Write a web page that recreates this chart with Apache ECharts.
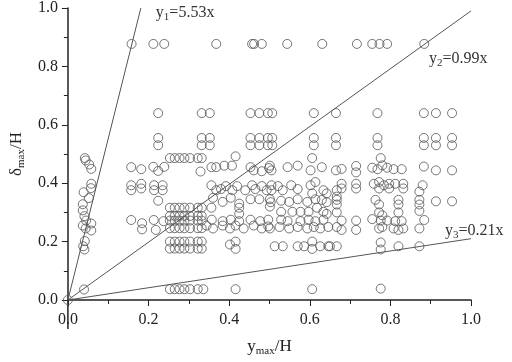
<!DOCTYPE html>
<html>
<head>
<meta charset="utf-8">
<script src="https://cdn.jsdelivr.net/npm/echarts@6/dist/echarts.min.js"></script>
<style>
html,body{margin:0;padding:0;background:#fff;}
#main{width:512px;height:362px;}
</style>
</head>
<body>
<div id="main"></div>
<script>
// 坐标轴刻度
var axisTicks = ['0.0', '0.2', '0.4', '0.6', '0.8', '1.0'];

// 拟合直线 y = kx
var fitNames = ['1', '2', '3'];
var fitSlopes = ['5.53', '0.99', '0.21'];
var fitEnds = [[0.181, 1.0], [1.0, 0.99], [1.0, 0.21]];

// 左侧一列
var leftPts = [
    [0, 0],
    [0.042, 0.486], [0.044, 0.478], [0.053, 0.464], [0.058, 0.449],
    [0.058, 0.398], [0.057, 0.383], [0.039, 0.369], [0.052, 0.349],
    [0.037, 0.328], [0.037, 0.307], [0.041, 0.287], [0.045, 0.272],
    [0.058, 0.262], [0.037, 0.255], [0.044, 0.245], [0.058, 0.238],
    [0.042, 0.202], [0.038, 0.184], [0.041, 0.173], [0.040, 0.036]
];

// 0.15 ~ 0.24
var colBPts = [
    [0.158, 0.877], [0.212, 0.877], [0.239, 0.877],
    [0.224, 0.640], [0.224, 0.555], [0.224, 0.530],
    [0.157, 0.455], [0.182, 0.448], [0.212, 0.456], [0.224, 0.442], [0.239, 0.456],
    [0.157, 0.393], [0.157, 0.376], [0.182, 0.398], [0.182, 0.382],
    [0.214, 0.393], [0.214, 0.376], [0.235, 0.393], [0.235, 0.376],
    [0.224, 0.340],
    [0.157, 0.274], [0.184, 0.263], [0.184, 0.242], [0.213, 0.274],
    [0.237, 0.270], [0.218, 0.240]
];

// 0.25 ~ 0.33 一块
var blockAPts = [
    [0.253, 0.486], [0.265, 0.486], [0.277, 0.486], [0.289, 0.486], [0.303, 0.486], [0.322, 0.486], [0.332, 0.486],
    [0.253, 0.316], [0.265, 0.316], [0.277, 0.316], [0.289, 0.316], [0.303, 0.316], [0.322, 0.316], [0.332, 0.316],
    [0.253, 0.288], [0.265, 0.288], [0.277, 0.288], [0.289, 0.288], [0.303, 0.288], [0.322, 0.288], [0.332, 0.288],
    [0.253, 0.272], [0.265, 0.272], [0.277, 0.272], [0.289, 0.272], [0.303, 0.272], [0.322, 0.272], [0.332, 0.272],
    [0.253, 0.246], [0.265, 0.246], [0.277, 0.246], [0.289, 0.246], [0.303, 0.246], [0.322, 0.246], [0.332, 0.246],
    [0.253, 0.200], [0.265, 0.200], [0.277, 0.200], [0.289, 0.200], [0.303, 0.200], [0.322, 0.200], [0.332, 0.200],
    [0.253, 0.176], [0.265, 0.176], [0.277, 0.176], [0.289, 0.176], [0.303, 0.176], [0.322, 0.176], [0.332, 0.176],
    [0.253, 0.037], [0.265, 0.037], [0.277, 0.037], [0.289, 0.037], [0.303, 0.037], [0.322, 0.037], [0.336, 0.037]
];

// 0.33 ~ 0.65
var midPts = [
    [0.368, 0.877], [0.457, 0.877], [0.462, 0.877], [0.481, 0.877], [0.544, 0.877], [0.631, 0.877],
    [0.332, 0.640], [0.352, 0.640], [0.453, 0.640], [0.475, 0.640], [0.496, 0.640], [0.507, 0.640], [0.610, 0.640],
    [0.332, 0.555], [0.352, 0.555], [0.453, 0.555], [0.475, 0.555], [0.496, 0.555], [0.507, 0.555], [0.610, 0.555],
    [0.332, 0.530], [0.352, 0.530], [0.453, 0.530], [0.475, 0.530], [0.496, 0.530], [0.507, 0.530], [0.610, 0.530],
    [0.416, 0.492], [0.606, 0.486],
    [0.329, 0.440], [0.356, 0.455], [0.368, 0.455], [0.388, 0.460], [0.407, 0.460], [0.453, 0.455],
    [0.461, 0.444], [0.481, 0.441], [0.501, 0.460], [0.505, 0.444], [0.499, 0.452], [0.545, 0.455],
    [0.570, 0.460], [0.602, 0.444], [0.630, 0.455],
    [0.356, 0.393], [0.368, 0.376], [0.380, 0.380], [0.392, 0.390], [0.408, 0.376], [0.420, 0.390],
    [0.440, 0.376], [0.457, 0.393], [0.465, 0.380], [0.481, 0.390], [0.493, 0.376], [0.505, 0.393],
    [0.505, 0.376], [0.521, 0.390], [0.533, 0.376], [0.554, 0.393], [0.570, 0.380], [0.602, 0.393],
    [0.614, 0.404], [0.634, 0.376], [0.606, 0.365], [0.642, 0.365],
    [0.360, 0.350], [0.384, 0.336], [0.404, 0.350], [0.425, 0.330], [0.453, 0.345], [0.475, 0.345],
    [0.501, 0.345], [0.503, 0.335], [0.529, 0.340], [0.549, 0.336], [0.570, 0.345], [0.594, 0.336],
    [0.614, 0.345], [0.630, 0.343], [0.642, 0.335],
    [0.356, 0.316], [0.425, 0.316], [0.501, 0.320], [0.529, 0.302], [0.557, 0.302], [0.577, 0.302],
    [0.597, 0.302], [0.618, 0.316], [0.634, 0.302], [0.425, 0.295], [0.642, 0.295],
    [0.357, 0.275], [0.384, 0.270], [0.404, 0.275], [0.425, 0.270], [0.453, 0.275], [0.477, 0.270],
    [0.497, 0.275], [0.529, 0.275], [0.545, 0.270], [0.577, 0.270], [0.597, 0.275], [0.614, 0.270],
    [0.634, 0.275],
    [0.344, 0.255], [0.360, 0.245], [0.384, 0.255], [0.402, 0.245], [0.416, 0.255], [0.436, 0.245],
    [0.461, 0.255], [0.481, 0.245], [0.501, 0.245], [0.497, 0.252], [0.525, 0.250], [0.549, 0.245],
    [0.570, 0.250], [0.594, 0.245], [0.610, 0.250], [0.626, 0.245], [0.646, 0.250],
    [0.402, 0.190], [0.416, 0.200], [0.416, 0.175], [0.513, 0.184], [0.533, 0.184], [0.570, 0.184],
    [0.586, 0.184], [0.606, 0.200], [0.606, 0.175], [0.626, 0.184], [0.646, 0.184],
    [0.416, 0.037], [0.606, 0.037]
];

// 0.65 以右
var rightPts = [
    [0.717, 0.877], [0.755, 0.877], [0.773, 0.877], [0.792, 0.877], [0.884, 0.877],
    [0.665, 0.640], [0.768, 0.640], [0.883, 0.640], [0.913, 0.640], [0.953, 0.640],
    [0.665, 0.555], [0.768, 0.555], [0.883, 0.555], [0.913, 0.555], [0.953, 0.555],
    [0.665, 0.530], [0.768, 0.530], [0.883, 0.530], [0.913, 0.530], [0.953, 0.530],
    [0.776, 0.486],
    [0.665, 0.444], [0.679, 0.449], [0.715, 0.459], [0.715, 0.437], [0.755, 0.453], [0.768, 0.448],
    [0.780, 0.461], [0.792, 0.453], [0.808, 0.448], [0.828, 0.448], [0.883, 0.457], [0.913, 0.444],
    [0.953, 0.444],
    [0.667, 0.376], [0.667, 0.354], [0.679, 0.398], [0.679, 0.382], [0.715, 0.398], [0.715, 0.382],
    [0.759, 0.398], [0.772, 0.404], [0.772, 0.382], [0.784, 0.393], [0.797, 0.398], [0.797, 0.382],
    [0.812, 0.398], [0.832, 0.398], [0.832, 0.382], [0.880, 0.393], [0.872, 0.371],
    [0.667, 0.343], [0.667, 0.327], [0.763, 0.343], [0.772, 0.327], [0.820, 0.343], [0.820, 0.327],
    [0.872, 0.343], [0.872, 0.327], [0.913, 0.338], [0.953, 0.338],
    [0.667, 0.300], [0.772, 0.300], [0.780, 0.290], [0.820, 0.300], [0.872, 0.305],
    [0.679, 0.272], [0.715, 0.272], [0.755, 0.277], [0.776, 0.272], [0.792, 0.272], [0.812, 0.270],
    [0.828, 0.270], [0.884, 0.274],
    [0.667, 0.250], [0.679, 0.240], [0.715, 0.240], [0.772, 0.245], [0.780, 0.250], [0.808, 0.245],
    [0.820, 0.240], [0.832, 0.245], [0.872, 0.245],
    [0.667, 0.184], [0.650, 0.184], [0.776, 0.197], [0.776, 0.173], [0.820, 0.184], [0.872, 0.184],
    [0.776, 0.039]
];

var fontFamily = '"Liberation Serif", "DejaVu Serif", serif';
var txtColor = '#222';

var allPts = leftPts.concat(colBPts, blockAPts, midPts, rightPts);

// 拟合线标签偏移
var labelOffsets = [[15, 5], [-42, 48], [-26, -8]];

var series = [];
for (var i = 0; i < fitEnds.length; i++) {
    (function (i) {
        series.push({
            type: 'line',
            data: [[0, 0], fitEnds[i]],
            showSymbol: false,
            symbol: 'none',
            clip: false,
            silent: true,
            lineStyle: { color: '#555', width: 1 },
            endLabel: {
                show: true,
                distance: 0,
                align: 'left',
                verticalAlign: 'middle',
                offset: labelOffsets[i],
                formatter: 'y{s|' + fitNames[i] + '}=' + fitSlopes[i] + 'x',
                fontFamily: fontFamily,
                fontSize: 16,
                color: '#333',
                rich: {
                    s: { fontSize: 11, fontFamily: fontFamily, color: '#333', padding: [9, 0, 0, 0] }
                }
            },
            z: 1
        });
    })(i);
}
series.push({
    type: 'scatter',
    data: allPts,
    symbol: 'circle',
    symbolSize: 9,
    itemStyle: { color: 'rgba(0,0,0,0)', borderColor: '#555', borderWidth: 1 },
    z: 2
});

var option = {
    backgroundColor: '#fff',
    animation: false,
    grid: { left: 58, right: 41, top: 6, bottom: 53 },
    xAxis: {
        type: 'value',
        min: 0, max: 1, interval: 0.2,
        name: '{a|y}{s|max}{a|/H}',
        nameLocation: 'middle',
        nameGap: 36,
        nameTextStyle: {
            rich: {
                a: { fontSize: 17, fontFamily: fontFamily, color: txtColor },
                s: { fontSize: 11, fontFamily: fontFamily, color: txtColor, padding: [10, 0, 0, 0] }
            }
        },
        axisLine: { show: true, lineStyle: { color: '#222', width: 1.5 } },
        axisTick: { show: true, length: 6, lineStyle: { color: '#222' } },
        minorTick: { show: true, splitNumber: 2, length: 4, lineStyle: { color: '#222' } },
        splitLine: { show: false },
        axisLabel: {
            margin: 12,
            fontSize: 16,
            fontFamily: fontFamily,
            color: txtColor,
            formatter: function (v) { return axisTicks[Math.round(v / 0.2)]; }
        }
    },
    yAxis: {
        type: 'value',
        min: 0, max: 1, interval: 0.2,
        name: '{a|δ}{s|max}{a|/H}',
        nameLocation: 'middle',
        nameGap: 40,
        nameTextStyle: {
            rich: {
                a: { fontSize: 17, fontFamily: fontFamily, color: txtColor },
                s: { fontSize: 11, fontFamily: fontFamily, color: txtColor, padding: [10, 0, 0, 0] }
            }
        },
        axisLine: { show: true, lineStyle: { color: '#222', width: 1.5 } },
        axisTick: { show: true, length: 6, lineStyle: { color: '#222' } },
        minorTick: { show: true, splitNumber: 2, length: 4, lineStyle: { color: '#222' } },
        splitLine: { show: false },
        axisLabel: {
            margin: 10,
            fontSize: 16,
            fontFamily: fontFamily,
            color: txtColor,
            formatter: function (v) { return axisTicks[Math.round(v / 0.2)]; }
        }
    },
    series: series
};

var chart = echarts.init(document.getElementById('main'), null, { renderer: 'canvas' });
chart.setOption(option);

// y轴线向下延伸一段
var p0 = chart.convertToPixel({ gridIndex: 0 }, [0, 0]);
chart.setOption({
    graphic: [{
        type: 'line',
        shape: { x1: p0[0], y1: p0[1], x2: p0[0], y2: p0[1] + 29 },
        style: { stroke: '#222', lineWidth: 1.5 },
        silent: true
    }]
});
</script>
</body>
</html>
